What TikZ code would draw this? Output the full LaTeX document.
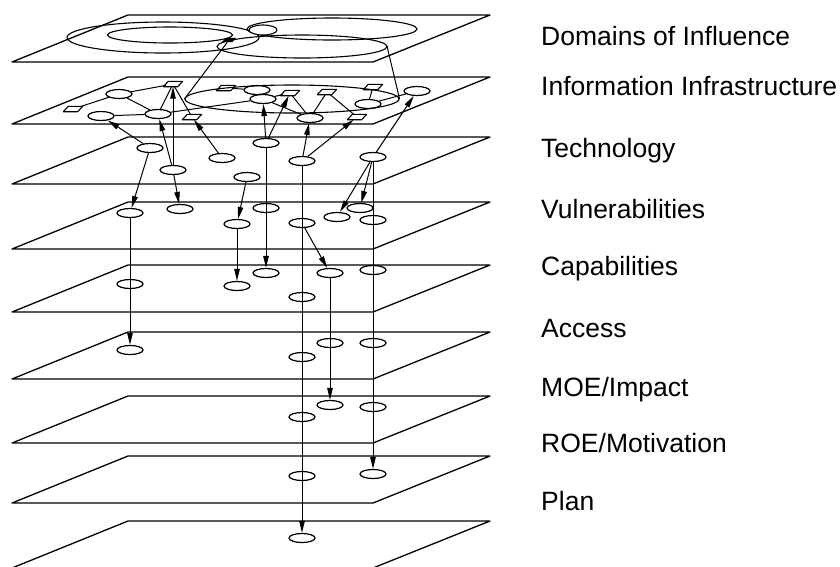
\documentclass[tikz,border=0pt]{standalone}
\usepackage{fontspec}
\setmainfont{Liberation Sans}
\usetikzlibrary{shapes.geometric, arrows.meta}
\begin{document}
\begin{tikzpicture}[x=1pt, y=-1pt,
  plane/.style={line width=1.3pt, line join=round},
  el/.style={draw, ellipse, line width=1.2pt, minimum width=26pt, minimum height=9pt, inner sep=0pt},
  bigel/.style={draw, ellipse, line width=1.1pt, inner sep=0pt},
  pg/.style={rectangle, minimum width=14pt, minimum height=5pt, inner sep=0pt},
  pgline/.style={line width=1.1pt, line join=round},
  link/.style={line width=1pt},
  arr/.style={line width=1pt, -{Triangle[length=12pt, width=5.5pt]}},
  lab/.style={anchor=base west, font=\fontsize{26.5}{30}\selectfont, inner sep=0pt}
]
\useasboundingbox (0,0) rectangle (840,566);

% planes
\foreach \t in {15,77,137,202,265,332,396,456,521}
  \draw[plane] (128,\t) -- (490,\t) -- (373,{\t+47}) -- (12,{\t+47}) -- cycle;

% labels
\node[lab] (l1) at (541,45) {Domains of Influence};
\node[lab] (l2) at (541,95) {Information Infrastructure};
\node[lab] (l3) at (541,157) {Technology};
\node[lab] (l4) at (541,218) {Vulnerabilities};
\node[lab] (l5) at (541,275) {Capabilities};
\node[lab] (l6) at (541,337) {Access};
\node[lab] (l7) at (541,396) {MOE/Impact};
\node[lab] (l8) at (541,452) {ROE/Motivation};
\node[lab] (l9) at (541,510) {Plan};

% domains of influence
\node[bigel, minimum width=192pt, minimum height=31pt] (da) at (163,37.5) {};
\node[bigel, minimum width=125pt, minimum height=16pt] (db) at (170,35) {};
\node[bigel, minimum width=170pt, minimum height=22pt] (dc) at (332,29) {};
\node[bigel, minimum width=170pt, minimum height=23pt] (dd) at (302,46.5) {};
\node[bigel, fill=white, minimum width=28pt, minimum height=10pt] (dsm) at (263,30) {};
\node[pg, minimum width=10pt, minimum height=4pt] (dj) at (229,40) {};
\fill ([xshift=-2pt]dj.south west) -- ([xshift=-2pt]dj.south east) -- ([xshift=2pt]dj.north east) -- ([xshift=2pt]dj.north west) -- cycle;
\coordinate (dj2) at (387,46);

% information infrastructure
\node[bigel, minimum width=214pt, minimum height=28pt] (big) at (292,99) {};
\node[pg] (n1) at (173,84) {};
\node[el] (n2) at (119,94) {};
\node[pg] (n3) at (73,109) {};
\node[el] (n4) at (101,116) {};
\node[el] (n5) at (158,114) {};
\node[pg] (n6) at (192,117) {};
\node[pg] (n7) at (226,88) {};
\node[el] (n8) at (257,90) {};
\node[el] (n9) at (263,99) {};
\node[pg] (n10) at (290,93) {};
\node[pg] (n11) at (327,92) {};
\node[el] (n12) at (310,118) {};
\node[pg] (n13) at (373,87) {};
\node[el] (n14) at (417,91) {};
\node[el] (n15) at (368,104) {};
\node[pg] (n16) at (357,117) {};
\foreach \n in {n1,n3,n6,n7,n10,n11,n13,n16}
  \draw[pgline] ([xshift=-2.5pt]\n.south west) -- ([xshift=-2.5pt]\n.south east) -- ([xshift=2.5pt]\n.north east) -- ([xshift=2.5pt]\n.north west) -- cycle;

\draw[link] (dj) -- (big.west);
\draw[link] (dj2) -- (big.east);
\foreach \a/\b in {n3/n2, n2/n1, n2/n5, n4/n5, n1/n5, n1/n6, n5/n9, n7/n8, n9/n10, n10/n12, n11/n12, n11/n16, n9/n12, n13/n15, n15/n14}
  \draw[link] (\a) -- (\b);

% technology
\node[el] (T1) at (150,148) {};
\node[el] (T2) at (173,170) {};
\node[el] (T3) at (222,158) {};
\node[el] (T4) at (266,143) {};
\node[el] (T5) at (247,177) {};
\node[el] (T6) at (302,161) {};
\node[el] (T7) at (373,157) {};

% vulnerabilities
\node[el] (V1) at (130,213) {};
\node[el] (V2) at (180,209) {};
\node[el] (V3) at (237,224) {};
\node[el] (V4) at (266,208) {};
\node[el] (V5) at (302,223) {};
\node[el] (V6) at (337,217) {};
\node[el] (V7) at (360,208) {};
\node[el] (V8) at (373,220) {};

% capabilities
\node[el] (C1) at (130,284) {};
\node[el] (C2) at (237,286) {};
\node[el] (C3) at (266,273) {};
\node[el] (C4) at (330,273) {};
\node[el] (C5) at (373,270) {};
\node[el] (C6) at (302,297) {};

% access
\node[el] (A1) at (130,350) {};
\node[el] (A2) at (302,357) {};
\node[el] (A3) at (330,343) {};
\node[el] (A4) at (373,343) {};

% MOE
\node[el] (M1) at (330,405) {};
\node[el] (M2) at (373,407) {};
\node[el] (M3) at (302,417) {};

% ROE
\node[el] (R1) at (302,476) {};
\node[el] (R2) at (373,474) {};

% plan
\node[el] (P1) at (302,538) {};

% arrows up to infrastructure
\draw[arr] (T1) -- (n4);
\draw[arr] (T2) -- (n1);
\draw[arr] (T2) -- (n5);
\draw[arr] (T3) -- (n6);
\draw[arr] (T4) -- (n9);
\draw[arr] (T4) -- (n10);
\draw[arr] (T6) -- (n12);
\draw[arr] (T6) -- (n16);
\draw[arr] (T7) -- (n14);

% arrows down
\draw[arr] (T1) -- (V1);
\draw[arr] (T2) -- (V2);
\draw[arr] (T5) -- (V3);
\draw[arr] (T7) -- (V6);
\draw[arr] (T7) -- (V7);
\draw[arr] (V3) -- (C2);
\draw[arr] (V5) -- (C4);
\draw[arr] (V1) -- (A1);
\draw[arr] (T4) -- (C3);
\draw[arr] (C4) -- (M1);
\draw[arr] (T7) -- (R2);
\draw[arr] (T6) -- (P1);
\end{tikzpicture}
\end{document}
